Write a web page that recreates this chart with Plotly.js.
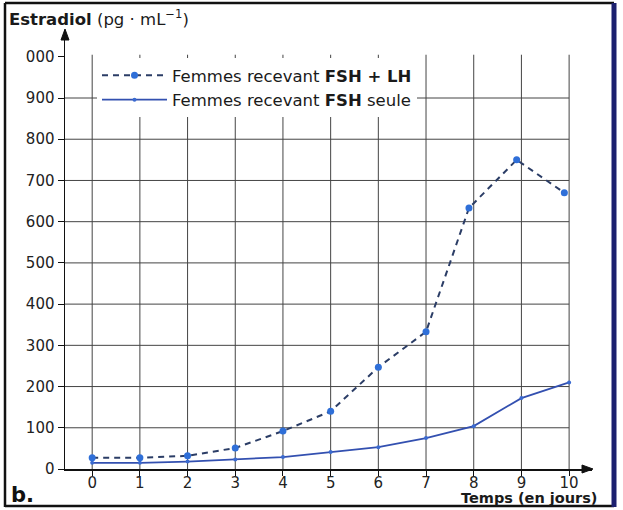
<!DOCTYPE html>
<html>
<head>
<meta charset="utf-8">
<script src="https://cdn.plot.ly/plotly-3.0.1.min.js"></script>
<style>html,body{margin:0;padding:0;background:#fff;}#chart{width:623px;height:510px;}</style>
</head>
<body>
<div id="chart"></div>
<script>
// ---- data ----
const days = [0, 1, 2, 3, 4, 5, 6, 7, 8, 9, 10];
const daysFshLh = [0, 1, 2, 3, 4, 5, 6, 7, 7.9, 8.9, 9.9];
const fshLh = [27, 27, 32, 51, 92, 140, 247, 333, 633, 750, 670];
const fshOnly = [15, 15, 18, 23, 29, 41, 53, 75, 104, 172, 210];
const yTickVals = [0, 100, 200, 300, 400, 500, 600, 700, 800, 900, 1000];
const yTickText = ['0', '100', '200', '300', '400', '500', '600', '700', '800', '900', '000'];
const xTickText = ['0', '1', '2', '3', '4', '5', '6', '7', '8', '9', '10'];
const nameFshLh = 'Femmes recevant <b>FSH + LH</b>';
const nameFshOnly = 'Femmes recevant <b>FSH</b> seule';
const yTitle = '<b>Estradiol</b> (pg · mL<sup>−1</sup>)';
const xTitle = '<b>Temps (en jours)</b>';
const panelLabel = '<b>b.</b>';

const W = 623, H = 510;
const M = {l: 65, r: 31, t: 30, b: 41};
const pw = W - M.l - M.r, ph = H - M.t - M.b;
const px = v => (v - M.l) / pw;          // pixel x -> paper
const py = v => (H - M.b - v) / ph;      // pixel y -> paper
const XR = [-0.57, 10.48];

const FONT = 'DejaVu Sans, Liberation Sans, Arial, sans-serif';
const gridColor = '#444';

const shapes = [];
// vertical grid lines (days) from 0 to 1000
days.forEach(d => shapes.push({type: 'line', xref: 'x', yref: 'y', x0: d, x1: d, y0: 0, y1: 1005,
  line: {color: gridColor, width: 1}, layer: 'below'}));
// horizontal grid lines from y axis to day 10
yTickVals.slice(1, -1).forEach(v => shapes.push({type: 'line', xref: 'paper', yref: 'y', x0: 0, x1: (10 - XR[0]) / (XR[1] - XR[0]), y0: v, y1: v,
  line: {color: gridColor, width: 1}, layer: 'below'}));
// axis arrowheads
const tri = (pts) => 'M' + pts.map(p => px(p[0]) + ',' + py(p[1])).join(' L') + ' Z';
shapes.push({type: 'path', xref: 'paper', yref: 'paper', path: tri([[61, 40], [65, 29], [69, 40]]), fillcolor: '#111', line: {color: '#111', width: 1}});
shapes.push({type: 'path', xref: 'paper', yref: 'paper', path: tri([[582, 465], [593, 469], [582, 473]]), fillcolor: '#111', line: {color: '#111', width: 1}});
// frame
shapes.push({type: 'line', xref: 'paper', yref: 'paper', x0: px(5), x1: px(5), y0: py(3), y1: py(507), line: {color: '#111', width: 2.5}});
shapes.push({type: 'line', xref: 'paper', yref: 'paper', x0: px(5), x1: px(614), y0: py(3), y1: py(3), line: {color: '#111', width: 2.5}});
shapes.push({type: 'line', xref: 'paper', yref: 'paper', x0: px(5), x1: px(614), y0: py(506), y1: py(506), line: {color: '#111', width: 2.5}});
shapes.push({type: 'line', xref: 'paper', yref: 'paper', x0: px(614), x1: px(614), y0: py(3), y1: py(507), line: {color: '#1b1f6e', width: 5}});

const traces = [
  {x: daysFshLh, y: fshLh, name: nameFshLh, type: 'scatter', mode: 'lines+markers',
   line: {color: '#2b3d66', width: 2, dash: '6px,5px'},
   marker: {color: '#2f6fd8', size: 7}},
  {x: days, y: fshOnly, name: nameFshOnly, type: 'scatter', mode: 'lines+markers',
   line: {color: '#3350b0', width: 1.8},
   marker: {color: '#3a6ad0', size: 4}}
];

const layout = {
  width: W, height: H,
  margin: M,
  paper_bgcolor: '#ffffff', plot_bgcolor: '#ffffff',
  font: {family: FONT, color: '#1a1a1a', size: 15},
  showlegend: true,
  legend: {x: px(97), y: py(58), xanchor: 'left', yanchor: 'top', bgcolor: '#ffffff',
    borderwidth: 0, font: {family: FONT, size: 16.5, color: '#1a1a1a'}, itemwidth: 65, tracegroupgap: 0},
  xaxis: {range: XR, tickvals: days, ticktext: xTickText, showgrid: false, zeroline: false,
    showline: true, linecolor: '#111', linewidth: 1.5, ticks: 'outside', ticklen: 5, tickcolor: '#111',
    ticklabelstandoff: -6,
    tickfont: {family: FONT, size: 15, color: '#222'}, fixedrange: true},
  yaxis: {range: [0, 1065], tickvals: yTickVals, ticktext: yTickText, showgrid: false, zeroline: false,
    showline: true, linecolor: '#111', linewidth: 1.5, ticks: 'outside', ticklen: 6, tickcolor: '#111',
    tickfont: {family: FONT, size: 15, color: '#222'}, fixedrange: true},
  shapes: shapes,
  annotations: [
    {xref: 'paper', yref: 'paper', x: px(7), y: py(18), xanchor: 'left', yanchor: 'middle', showarrow: false, text: yTitle,
     font: {family: FONT, size: 16.5, color: '#1a1a1a'}},
    {xref: 'paper', yref: 'paper', x: px(599), y: py(498), xanchor: 'right', yanchor: 'middle', showarrow: false, text: xTitle,
     font: {family: FONT, size: 14.5, color: '#1a1a1a'}},
    {xref: 'paper', yref: 'paper', x: px(9), y: py(495), xanchor: 'left', yanchor: 'middle', showarrow: false, text: panelLabel,
     font: {family: FONT, size: 21, color: '#111'}}
  ]
};

Plotly.newPlot('chart', traces, layout, {displayModeBar: false, staticPlot: true});
</script>
</body>
</html>
